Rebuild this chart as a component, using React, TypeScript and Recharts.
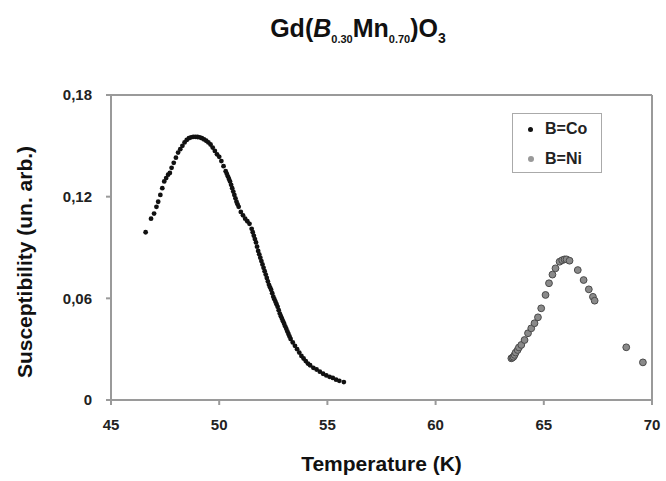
import { ReferenceLine, Scatter, ScatterChart, XAxis, YAxis } from "recharts";

// B=Co series (temperature K, susceptibility)
const coTemp = [
  46.6, 46.85, 46.99, 47.1, 47.18, 47.28, 47.37, 47.46, 47.55, 47.64, 47.72, 47.8, 47.9,
  48.0, 48.1, 48.2, 48.3, 48.4, 48.5, 48.6, 48.7, 48.8, 48.9, 49.0, 49.1, 49.2, 49.3, 49.4,
  49.5, 49.6, 49.7, 49.8, 49.9, 50.0, 50.1, 50.2, 50.3, 50.4, 50.5, 50.6, 50.7, 50.8, 50.9,
  51.0, 51.1, 51.2, 51.3, 51.4, 51.5, 51.6, 51.7, 51.8, 51.9, 52.0, 52.1, 52.2, 52.3, 52.4,
  52.5, 52.6, 52.7, 52.8, 52.9, 53.0, 53.1, 53.2, 53.3, 53.4, 53.5, 53.6, 53.7, 53.8, 53.9,
  54.0, 54.1, 54.2, 54.35, 54.5, 54.65, 54.8, 54.95, 55.1, 55.25, 55.4, 55.55, 55.76,
];
const coChi = [
  0.099, 0.107, 0.11, 0.114, 0.117, 0.121, 0.125, 0.129, 0.131, 0.133, 0.134, 0.137, 0.14,
  0.143, 0.146, 0.148, 0.15, 0.152, 0.1535, 0.1545, 0.155, 0.1553, 0.1553, 0.1552, 0.155,
  0.1545, 0.1538, 0.153, 0.152, 0.1508, 0.149, 0.147, 0.145, 0.1435, 0.141, 0.138, 0.135,
  0.132, 0.129, 0.125, 0.121, 0.117, 0.114, 0.111, 0.109, 0.107, 0.1055, 0.104, 0.101,
  0.097, 0.093, 0.088, 0.084, 0.08, 0.076, 0.072, 0.068, 0.065, 0.061, 0.058, 0.055, 0.051,
  0.048, 0.045, 0.042, 0.039, 0.036, 0.034, 0.032, 0.03, 0.028, 0.026, 0.0245, 0.023,
  0.0215, 0.0205, 0.019, 0.018, 0.0167, 0.0155, 0.0145, 0.0137, 0.013, 0.012, 0.0113, 0.0106,
];
// extra Co readings on the steep side, where the measured points sit closer together
const coTempSteep = [
  50.35, 50.45, 50.55, 50.65, 50.75, 50.85, 51.55, 51.65, 51.75, 51.85, 51.95, 52.05, 52.15,
  52.25, 52.35, 52.45, 52.55, 52.65, 52.75, 52.85, 52.95, 53.05, 53.15, 53.25,
];
const coChiSteep = [
  0.1335, 0.1305, 0.127, 0.123, 0.119, 0.1155, 0.099, 0.095, 0.0905, 0.086, 0.082, 0.078,
  0.074, 0.07, 0.0665, 0.063, 0.0595, 0.0565, 0.053, 0.0495, 0.0465, 0.0435, 0.0405, 0.0375,
];

// B=Ni series
const niTemp = [
  63.5, 63.55, 63.6, 63.65, 63.7, 63.79, 63.85, 63.96, 64.11, 64.27, 64.42, 64.57, 64.73,
  64.88, 65.08, 65.24, 65.4, 65.54, 65.73, 65.85, 65.96, 66.05, 66.19, 66.57, 66.84, 67.08,
  67.27, 67.35, 68.81, 69.58,
];
const niChi = [
  0.0246, 0.025, 0.0255, 0.0266, 0.028, 0.0295, 0.031, 0.0325, 0.0354, 0.0394, 0.0423,
  0.0453, 0.0488, 0.0541, 0.062, 0.0689, 0.074, 0.0777, 0.0816, 0.0825, 0.083, 0.083,
  0.0822, 0.0767, 0.0708, 0.0653, 0.0609, 0.0586, 0.0311, 0.0222,
];

const xTicks = [45, 50, 55, 60, 65, 70];
const yTicks = [0, 0.06, 0.12, 0.18];

const coData = [...coTemp, ...coTempSteep].map((t, i) => ({
  t,
  chi: [...coChi, ...coChiSteep][i],
}));
const niData = niTemp.map((t, i) => ({ t, chi: niChi[i] }));

const FONT = "'Liberation Sans', Arial, Helvetica, sans-serif";
const AXIS = "#9a9a9a";

const CoDot = (p: any) => <circle cx={p.cx} cy={p.cy} r={2.4} fill="#111" />;
const NiDot = (p: any) => (
  <circle cx={p.cx} cy={p.cy} r={3.4} fill="#8a8a8a" stroke="#4a4a4a" strokeWidth={1} />
);

// legend drawn as a plain box so it doesn't eat into the plot width
function LegendBox() {
  const row = { display: "flex", alignItems: "center", height: 30 } as const;
  return (
    <div
      style={{
        position: "absolute",
        left: 512,
        top: 113,
        width: 90,
        height: 60,
        border: "1px solid #aaa",
        background: "#fff",
        fontWeight: 700,
        fontSize: 16,
        color: "#222",
        boxSizing: "border-box",
      }}
    >
      <div style={row}>
        <span style={{ width: 5, height: 5, borderRadius: 3, background: "#111", margin: "0 12px 0 15px" }} />
        B=Co
      </div>
      <div style={row}>
        <span style={{ width: 6, height: 6, borderRadius: 3, background: "#999", margin: "0 11px 0 15px" }} />
        B=Ni
      </div>
    </div>
  );
}

const fmtY = (v: number) => (v === 0 ? "0" : v.toFixed(2).replace(".", ","));

export default function App() {
  return (
    <div
      style={{
        position: "absolute",
        left: 0,
        top: 0,
        width: 666,
        height: 481,
        background: "#fff",
        fontFamily: FONT,
        overflow: "hidden",
      }}
    >
      <div
        style={{
          position: "absolute",
          left: 0,
          width: 666,
          top: 14,
          textAlign: "center",
          paddingLeft: 50,
          boxSizing: "border-box",
          fontWeight: 700,
          fontSize: 25,
          color: "#111",
        }}
      >
        Gd(<i>B</i>
        <sub style={{ fontSize: 11 }}>0.30</sub>Mn<sub style={{ fontSize: 11 }}>0.70</sub>)O
        <sub style={{ fontSize: 14 }}>3</sub>
      </div>

      <ScatterChart width={666} height={481} margin={{ top: 95, right: 14, bottom: 51, left: 51 }}>
        <XAxis
          type="number"
          dataKey="t"
          domain={[45, 70]}
          ticks={xTicks}
          interval={0}
          height={30}
          stroke={AXIS}
          strokeWidth={2}
          tickSize={5}
          tickMargin={14}
          tick={{ fill: "#222", fontSize: 15, fontWeight: 700, fontFamily: FONT }}
        />
        <YAxis
          type="number"
          dataKey="chi"
          domain={[0, 0.18]}
          ticks={yTicks}
          interval={0}
          width={60}
          stroke={AXIS}
          strokeWidth={2}
          tickSize={5}
          tickMargin={14}
          tickFormatter={fmtY}
          tick={{ fill: "#222", fontSize: 15, fontWeight: 700, fontFamily: FONT }}
        />
        <ReferenceLine y={0.18} stroke={AXIS} strokeWidth={2} />
        <ReferenceLine x={70} stroke={AXIS} strokeWidth={2} />
        <Scatter name="B=Co" data={coData} shape={CoDot} isAnimationActive={false} />
        <Scatter name="B=Ni" data={niData} shape={NiDot} isAnimationActive={false} />
      </ScatterChart>

      <LegendBox />

      <div
        style={{
          position: "absolute",
          left: 111,
          width: 541,
          top: 452,
          textAlign: "center",
          fontWeight: 700,
          fontSize: 21,
          color: "#111",
        }}
      >
        Temperature (K)
      </div>
      <div
        style={{
          position: "absolute",
          left: 25,
          top: 262,
          transform: "translate(-50%, -50%) rotate(-90deg)",
          whiteSpace: "nowrap",
          fontWeight: 700,
          fontSize: 21,
          color: "#111",
        }}
      >
        Susceptibility (un. arb.)
      </div>
    </div>
  );
}
